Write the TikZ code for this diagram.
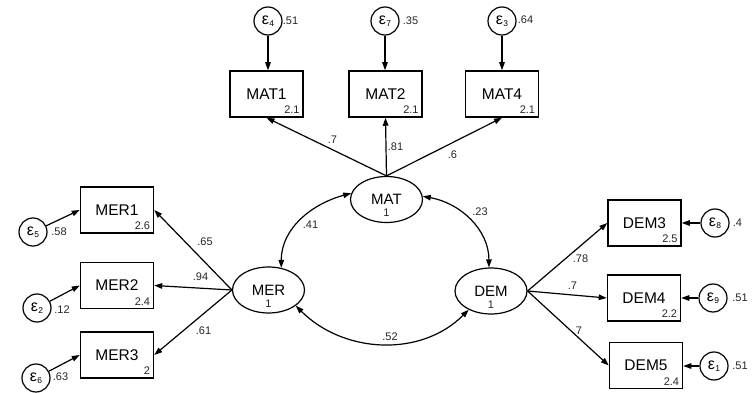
\documentclass[tikz,border=0pt]{standalone}
\usepackage{fontspec}
\setmainfont{Liberation Sans}
\usetikzlibrary{arrows.meta,shapes.geometric}
\begin{document}
\begin{tikzpicture}[x=1pt,y=1pt,
  obs/.style={draw, line width=1.5pt, minimum width=73pt, minimum height=46pt, inner sep=0pt, font=\fontsize{15.5}{16}\selectfont},
  lat/.style={draw, ellipse, line width=1.2pt, minimum width=72pt, minimum height=46pt, inner sep=0pt, font=\fontsize{15}{15}\selectfont},
  err/.style={draw, circle, line width=1.2pt, minimum size=28pt, inner sep=0pt, font=\fontsize{16}{16}\selectfont},
  num/.style={font=\fontsize{11}{11}\selectfont, inner sep=0pt, text=black!85},
  lnk/.style={line width=1.2pt, -{Triangle[length=8pt,width=5.5pt]}},
  cov/.style={line width=1.2pt, {Triangle[length=8pt,width=5.5pt]}-{Triangle[length=8pt,width=5.5pt]}},
]
\newcommand{\epsv}[1]{ε\kern0.3pt\raisebox{-1.5pt}{\fontsize{8.5}{8.5}\selectfont #1}}
\fill[white] (0,0) rectangle (756,-393);
\useasboundingbox (0,0) rectangle (756,-393);

% latent variables
\node[lat] (MAT) at (386.5,-199.5) {MAT};
\node[lat] (MER) at (268.5,-290) {MER};
\node[lat] (DEM) at (491,-291) {DEM};
\node[num] (MATv) at (386.5,-213) {1};
\node[num] (MERv) at (268.5,-303.5) {1};
\node[num] (DEMv) at (491,-304.5) {1};

% observed variables
\node[obs] (MAT1) at (266.5,-94) {MAT1};
\node[obs] (MAT2) at (385.5,-94) {MAT2};
\node[obs] (MAT4) at (502,-94) {MAT4};
\node[obs] (MER1) at (117,-210) {MER1};
\node[obs] (MER2) at (117,-285.5) {MER2};
\node[obs] (MER3) at (117,-355) {MER3};
\node[obs] (DEM3) at (644.5,-223) {DEM3};
\node[obs] (DEM4) at (644,-298) {DEM4};
\node[obs] (DEM5) at (646,-365.5) {DEM5};

\foreach \n/\v in {MAT1/2.1,MAT2/2.1,MAT4/2.1,MER1/2.6,MER2/2.4,MER3/2,DEM3/2.5,DEM4/2.2,DEM5/2.4}
  \node[num, anchor=south east] (\n v) at ([xshift=-4pt,yshift=4pt]\n.south east) {\v};

% error terms
\node[err] (e4) at (268,-21) {\epsv{4}};
\node[err] (e7) at (385,-21) {\epsv{7}};
\node[err] (e3) at (502,-21) {\epsv{3}};
\node[err] (e5) at (33,-232) {\epsv{5}};
\node[err] (e2) at (37,-308) {\epsv{2}};
\node[err] (e6) at (36,-378) {\epsv{6}};
\node[err] (e8) at (715,-223) {\epsv{8}};
\node[err] (e9) at (713,-298) {\epsv{9}};
\node[err] (e1) at (714,-366) {\epsv{1}};

% error variances
\node[num] (e4v) at (290.5,-21) {.51};
\node[num] (e7v) at (410.5,-21) {.35};
\node[num] (e3v) at (525.5,-20) {.64};
\node[num] (e5v) at (59,-232) {.58};
\node[num] (e2v) at (62,-310) {.12};
\node[num] (e6v) at (60.5,-377) {.63};
\node[num] (e8v) at (737.5,-223) {.4};
\node[num] (e9v) at (740,-298) {.51};
\node[num] (e1v) at (740,-366) {.51};

% error paths
\draw[lnk] (e4) -- (e4 |- MAT1.north);
\draw[lnk] (e7) -- (e7 |- MAT2.north);
\draw[lnk] (e3) -- (e3 |- MAT4.north);
\draw[lnk] (e5) -- (MER1.west);
\draw[lnk] (e2) -- (MER2.west);
\draw[lnk] (e6) -- (MER3.west);
\draw[lnk] (e8) -- (e8 -| DEM3.east);
\draw[lnk] (e9) -- (e9 -| DEM4.east);
\draw[lnk] (e1) -- (e1 -| DEM5.east);

% loadings
\draw[lnk] (MAT.north) -- (MAT1.south);
\draw[lnk] (MAT.north) -- (MAT2.south);
\draw[lnk] (MAT.north) -- (MAT4.south);
\draw[lnk] (MER.west) -- (MER1.east);
\draw[lnk] (MER.west) -- (MER2.east);
\draw[lnk] (MER.west) -- (MER3.east);
\draw[lnk] (DEM.east) -- (DEM3.west);
\draw[lnk] (DEM.east) -- (DEM4.west);
\draw[lnk] (DEM.east) -- (DEM5.west);

\node[num] (l1) at (332.5,-140) {.7};
\node[num] (l2) at (395.5,-147) {.81};
\node[num] (l3) at (452.5,-155) {.6};
\node[num] (l4) at (205,-242) {.65};
\node[num] (l5) at (200.5,-277) {.94};
\node[num] (l6) at (203.5,-331) {.61};
\node[num] (l7) at (580.5,-259) {.78};
\node[num] (l8) at (572.5,-286) {.7};
\node[num] (l9) at (577.5,-331) {.7};

% covariances
\draw[cov] (MER.60) to[out=90,in=195] (MAT.170);
\draw[cov] (MAT.5) to[out=-10,in=90] (DEM.95);
\draw[cov] (MER.-30) to[out=-45,in=-135] (DEM.220);
\node[num] (c1) at (310.5,-225) {.41};
\node[num] (c2) at (480,-212) {.23};
\node[num] (c3) at (390,-337) {.52};
\end{tikzpicture}
\end{document}
